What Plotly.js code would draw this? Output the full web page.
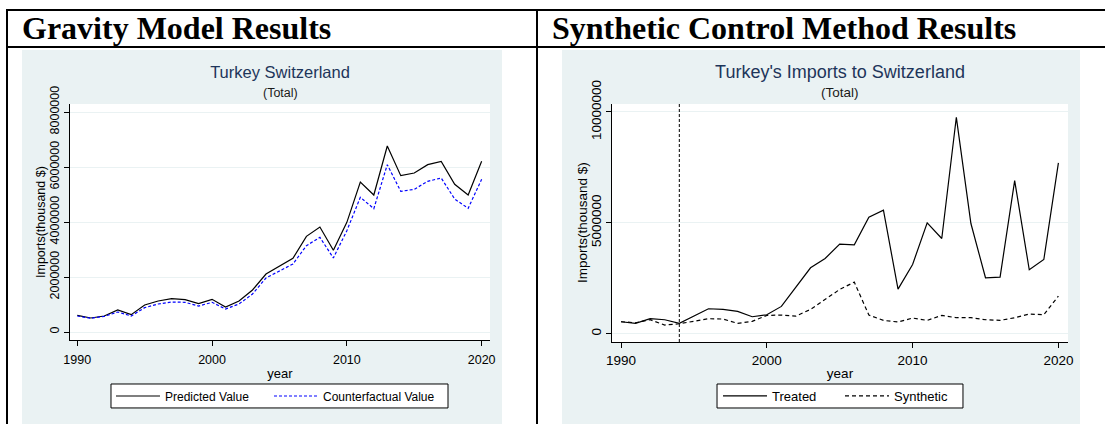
<!DOCTYPE html>
<html><head><meta charset="utf-8">
<script src="https://cdn.plot.ly/plotly-3.0.1.min.js"></script>
<style>
body{margin:0;background:#fff;}
#wrap{position:relative;width:1105px;height:424px;overflow:hidden;background:#fff;}
.hl{position:absolute;background:#000;}
.hdr{position:absolute;font-family:"Liberation Serif","Times New Roman",serif;font-weight:bold;font-size:32px;line-height:32px;color:#000;white-space:nowrap;}
.panel{position:absolute;}
</style></head><body>
<div id="wrap">
 <div class="hl" style="left:6px;top:9px;width:1099px;height:2px"></div>
 <div class="hl" style="left:6px;top:46px;width:1099px;height:2px"></div>
 <div class="hl" style="left:6px;top:9px;width:2px;height:415px"></div>
 <div class="hl" style="left:536px;top:9px;width:2px;height:415px"></div>
 <div class="hdr" style="left:22px;top:12px">Gravity Model Results</div>
 <div class="hdr" style="left:552px;top:12px">Synthetic Control Method Results</div>
 <div id="g1" class="panel" style="left:22px;top:50px;width:480px;height:374px"></div>
 <div id="g2" class="panel" style="left:562px;top:50px;width:518px;height:374px"></div>
</div>
<script>
// ---- data ----
const years = [1990,1991,1992,1993,1994,1995,1996,1997,1998,1999,2000,2001,2002,2003,2004,2005,2006,2007,2008,2009,2010,2011,2012,2013,2014,2015,2016,2017,2018,2019,2020];
const predicted = [606000,509000,582000,800000,630000,982000,1127000,1212000,1176000,1030000,1188000,909000,1127000,1527000,2109000,2400000,2679000,3479000,3818000,2970000,3988000,5455000,4982000,6764000,5685000,5782000,6085000,6206000,5370000,4982000,6206000];
const counterfactual = [582000,497000,570000,727000,582000,885000,1018000,1091000,1079000,945000,1079000,836000,1018000,1382000,1964000,2230000,2473000,3139000,3442000,2691000,3685000,4897000,4485000,6085000,5115000,5188000,5479000,5600000,4836000,4497000,5552000];
const treated = [540000,465000,676000,631000,465000,811000,1126000,1096000,1006000,766000,856000,1231000,2102000,2973000,3393000,4039000,4009000,5255000,5571000,2012000,3123000,5000000,4294000,9760000,4970000,2523000,2553000,6907000,2883000,3348000,7703000];
const synthetic = [540000,495000,631000,390000,450000,556000,676000,661000,465000,556000,826000,841000,796000,1096000,1532000,1997000,2327000,841000,601000,526000,706000,601000,826000,721000,721000,631000,601000,721000,886000,856000,1697000];
const treatmentYear = 1994;
const xTicks = [1990,2000,2010,2020];
const yTicksLeft = [0,2000000,4000000,6000000,8000000];
const yTicksRight = [0,5000000,10000000];

const FONT = 'Liberation Sans, Arial, sans-serif';
const TITLE_COLOR = '#1d355a';
const cfg = {displayModeBar:false, staticPlot:true};

function baseAxis(fs){
  return {ticks:'outside', ticklen:5, tickwidth:1, tickcolor:'#000', showline:true, linecolor:'#000', linewidth:1,
          zeroline:false, tickfont:{family:FONT,size:fs,color:'#000'}, fixedrange:true};
}
function legendAt(x, y, fs){
  return {orientation:'h', x:x, xanchor:'left', xref:'paper', y:y, yanchor:'middle', yref:'paper',
          borderwidth:0, bgcolor:'rgba(0,0,0,0)', font:{family:FONT,size:fs,color:'#000'}, itemwidth:44};
}
function legendBox(x0, x1, y0, y1){
  return {type:'rect', xref:'paper', yref:'paper', x0:x0, x1:x1, y0:y0, y1:y1,
          fillcolor:'#ffffff', line:{color:'#000', width:1}, layer:'above'};
}
function yTitle(x, fs){
  return {text:'Imports(thousand $)', textangle:-90, xref:'paper', x:x, xanchor:'center', yref:'paper', y:0.5, yanchor:'middle',
          showarrow:false, font:{family:FONT,size:fs,color:'#000'}};
}

// ---- left chart ----
const t1 = [
  {x:years, y:predicted, type:'scatter', mode:'lines', name:'Predicted Value', legend:'legend', line:{color:'#000',width:1.2}},
  {x:years, y:counterfactual, type:'scatter', mode:'lines', name:'Counterfactual Value', legend:'legend2', line:{color:'#0000ff',width:1.2,dash:'3px,2px'}}
];
const l1 = {
  width:480, height:374, margin:{l:48,r:12,t:54,b:84},
  paper_bgcolor:'#eaf2f3', plot_bgcolor:'#ffffff',
  font:{family:FONT,size:12,color:'#000'},
  title:{text:'Turkey Switzerland', font:{family:FONT,size:16.5,color:TITLE_COLOR}, xref:'paper', x:0.5, xanchor:'center', yref:'container', y:1-22/374, yanchor:'middle'},
  annotations:[
    {text:'(Total)', xref:'paper', x:0.5, yref:'paper', y:1+11/236, yanchor:'middle', showarrow:false, font:{family:FONT,size:12.5,color:'#1a1a1a'}},
    yTitle(-29/420, 12.5)
  ],
  shapes:[legendBox(0.0976, 0.9, -0.288, -0.1864)],
  xaxis:Object.assign(baseAxis(12.5), {range:[1989.46,2020.62], tickvals:xTicks, showgrid:false, ticklabelstandoff:3,
        title:{text:'year', font:{family:FONT,size:13,color:'#000'}, standoff:2}}),
  yaxis:Object.assign(baseAxis(12.5), {range:[-291000,8291000], tickvals:yTicksLeft, tickformat:'d', tickangle:-90,
        showgrid:true, gridcolor:'#eaf2f3', gridwidth:1}),
  showlegend:true,
  legend:legendAt(0.0976, -0.2373, 12),
  legend2:legendAt(0.4738, -0.2373, 12)
};
Plotly.newPlot('g1', t1, l1, cfg);

// ---- right chart ----
const t2 = [
  {x:years, y:treated, type:'scatter', mode:'lines', name:'Treated', legend:'legend', line:{color:'#000',width:1.2}},
  {x:years, y:synthetic, type:'scatter', mode:'lines', name:'Synthetic', legend:'legend2', line:{color:'#000',width:1.2,dash:'4px,3px'}}
];
const l2 = {
  width:518, height:374, margin:{l:50,r:12,t:54,b:82},
  paper_bgcolor:'#eaf2f3', plot_bgcolor:'#ffffff',
  font:{family:FONT,size:13,color:'#000'},
  title:{text:"Turkey's Imports to Switzerland", font:{family:FONT,size:18,color:TITLE_COLOR}, xref:'paper', x:0.5, xanchor:'center', yref:'container', y:1-22/374, yanchor:'middle'},
  annotations:[
    {text:'(Total)', xref:'paper', x:0.5, yref:'paper', y:1+11/238, yanchor:'middle', showarrow:false, font:{family:FONT,size:13.5,color:'#1a1a1a'}},
    yTitle(-30/456, 13.5)
  ],
  shapes:[
    {type:'line', xref:'x', x0:treatmentYear, x1:treatmentYear, yref:'paper', y0:0, y1:1, line:{color:'#000',width:1,dash:'3px,2px'}},
    legendBox(0.2303, 0.7697, -0.2773, -0.1765)
  ],
  xaxis:Object.assign(baseAxis(13.5), {range:[1989.383,2020.658], tickvals:xTicks, showgrid:false, ticklabelstandoff:1,
        title:{text:'year', font:{family:FONT,size:13.5,color:'#000'}, standoff:1}}),
  yaxis:Object.assign(baseAxis(13.5), {range:[-374000,10360000], tickvals:yTicksRight, tickformat:'d', tickangle:-90,
        showgrid:true, gridcolor:'#eaf2f3', gridwidth:1}),
  showlegend:true,
  legend:legendAt(0.2325, -0.2269, 13),
  legend2:legendAt(0.5, -0.2269, 13)
};
Plotly.newPlot('g2', t2, l2, cfg);
</script>
</body></html>
